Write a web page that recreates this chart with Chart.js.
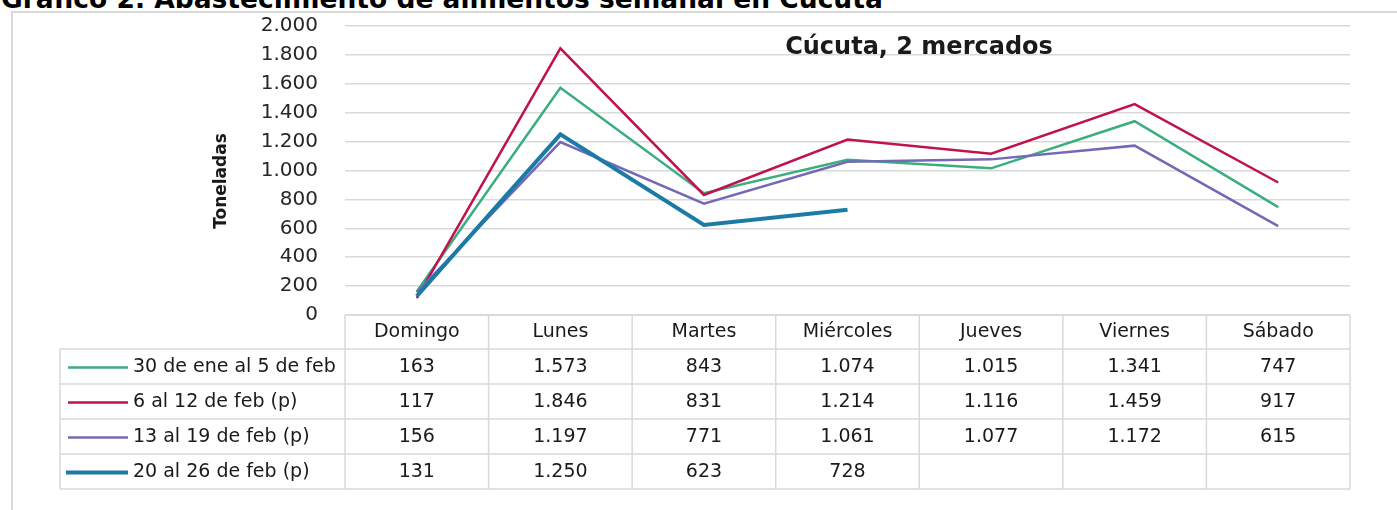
<!DOCTYPE html>
<html><head><meta charset="utf-8">
<script src="https://cdn.jsdelivr.net/npm/chart.js@4.4.0/dist/chart.umd.min.js"></script>
<style>
html,body{margin:0;padding:0;background:#fff;overflow:hidden;}
#wrap{position:relative;width:1397px;height:510px;overflow:hidden;}
#cap{position:absolute;left:1px;top:-14px;font:bold 26.5px "DejaVu Sans";line-height:26.5px;white-space:nowrap;color:#000;}
#frame{position:absolute;left:11px;top:11px;width:1400px;height:520px;border-top:2px solid #d9d9d9;border-left:2px solid #d9d9d9;}
#cw{position:absolute;left:0;top:0;width:1397px;height:510px;}
</style></head>
<body>
<div id="wrap">
<div id="cap">Gráfico 2. Abastecimiento de alimentos semanal en Cúcuta</div>
<div id="frame"></div>
<div id="cw"><canvas id="c"></canvas></div>
</div>
<script>
const days = ['Domingo','Lunes','Martes','Miércoles','Jueves','Viernes','Sábado'];
const seriesNames = ['30 de ene al 5 de feb','6 al 12 de feb (p)','13 al 19 de feb (p)','20 al 26 de feb (p)'];
const week1 = [163,1573,843,1074,1015,1341,747];
const week2 = [117,1846,831,1214,1116,1459,917];
const week3 = [156,1197,771,1061,1077,1172,615];
const week4 = [131,1250,623,728,null,null,null];
const seriesColors = ['#3cae7e','#c0124f','#7469b6','#1c7aa6'];
const seriesWidths = [2.5,2.5,2.5,4];
const chartTitle = 'Cúcuta, 2 mercados';
const yTitle = 'Toneladas';

const FONT = '"DejaVu Sans", sans-serif';
function fmt(v){ return String(v).replace(/\B(?=(\d{3})+(?!\d))/g,'.'); }

const allSeries = [week1,week2,week3,week4];

const tablePlugin = {
  id:'tbl',
  afterDraw(chart){
    const ctx = chart.ctx, a = chart.chartArea, xs = chart.scales.x;
    const n = days.length, colW = (a.right - a.left)/n;
    const top = 315, hdrBot = 349, rowH = 35, legLeft = 60;
    const nRows = allSeries.length;
    const bottom = hdrBot + nRows*rowH;
    ctx.save();
    ctx.strokeStyle = '#d9d9d9'; ctx.lineWidth = 1.5;
    ctx.beginPath();
    ctx.moveTo(a.left, top); ctx.lineTo(a.right, top);
    for (let r=0;r<=nRows;r++){ const y = hdrBot + r*rowH; ctx.moveTo(legLeft,y); ctx.lineTo(a.right,y); }
    for (let c=0;c<=n;c++){ const x = a.left + c*colW; ctx.moveTo(x, top); ctx.lineTo(x, bottom); }
    ctx.moveTo(legLeft, hdrBot); ctx.lineTo(legLeft, bottom);
    ctx.stroke();
    // chart title
    ctx.fillStyle = '#1a1a1a';
    ctx.font = 'bold 24px ' + FONT;
    ctx.textAlign = 'center'; ctx.textBaseline = 'alphabetic';
    ctx.fillText(chartTitle, 919, 54);
    // y axis title
    ctx.save();
    ctx.translate(222, 181); ctx.rotate(-Math.PI/2);
    ctx.font = 'bold 17px ' + FONT; ctx.textBaseline = 'middle';
    ctx.fillText(yTitle, 0, 0);
    ctx.restore();
    // rows
    ctx.font = '19px ' + FONT;
    ctx.textBaseline = 'middle';
    for (let r=0;r<nRows;r++){
      const yc = hdrBot + r*rowH + rowH/2 + 1;
      ctx.strokeStyle = seriesColors[r]; ctx.lineWidth = seriesWidths[r];
      ctx.beginPath(); ctx.moveTo(r===3?66:68, yc); ctx.lineTo(128, yc); ctx.stroke();
      ctx.fillStyle = '#1a1a1a'; ctx.textAlign = 'left';
      ctx.fillText(seriesNames[r], 133, yc);
      ctx.textAlign = 'center';
      allSeries[r].forEach((v,i)=>{ if (v!==null) ctx.fillText(fmt(v), xs.getPixelForValue(i), yc); });
    }
    ctx.restore();
  }
};

new Chart(document.getElementById('c'), {
  type:'line',
  data:{
    labels: days,
    datasets: allSeries.map((d,i)=>({
      label: seriesNames[i], data: d, borderColor: seriesColors[i], backgroundColor: seriesColors[i],
      borderWidth: seriesWidths[i], pointRadius:0, tension:0, spanGaps:false, order: 4-i
    }))
  },
  options:{
    responsive:true, maintainAspectRatio:false, animation:false,
    layout:{padding:{left:212,right:47,top:26,bottom:160}},
    plugins:{legend:{display:false}, tooltip:{enabled:false}, title:{display:false}},
    scales:{
      x:{
        offset:true,
        grid:{display:false, drawTicks:false}, border:{display:false},
        ticks:{color:'#1a1a1a', font:{family:FONT,size:19}, padding:6, maxRotation:0, autoSkip:false},
        afterFit(s){ s.height = 35; }
      },
      y:{
        min:0, max:2000,
        grid:{color:'#d9d9d9', lineWidth:1.5, drawTicks:false}, border:{display:false},
        ticks:{stepSize:200, padding:27, color:'#262626', font:{family:FONT,size:20}, callback:(v)=>fmt(v)},
        title:{display:false},
        afterFit(s){ s.width = 133; s.paddingTop = 0; s.paddingBottom = 0; }
      }
    }
  },
  plugins:[tablePlugin]
});
</script>
</body></html>
